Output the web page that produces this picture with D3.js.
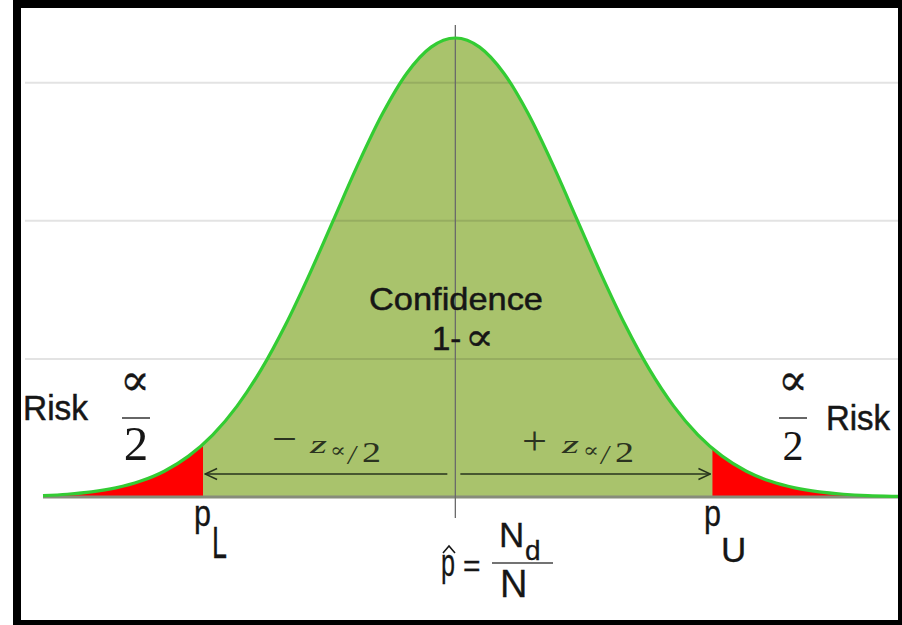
<!DOCTYPE html>
<html>
<head>
<meta charset="utf-8">
<script src="https://cdn.jsdelivr.net/npm/d3@7"></script>
<style>
  body { margin: 0; background: #fff; }
  svg { display: block; }
</style>
</head>
<body>
<script>
// curve heights (z in sigma units, density)
const zPts = [-3.4, -3.2, -3.0, -2.8, -2.6, -2.4, -2.2, -2.0, -1.8, -1.6, -1.4, -1.2, -1.0, -0.8, -0.6, -0.4, -0.2,
              0, 0.2, 0.4, 0.6, 0.8, 1.0, 1.2, 1.4, 1.6, 1.8, 2.0, 2.2, 2.4, 2.6, 2.8, 3.0, 3.2, 3.4, 3.6, 3.65];
const densPts = [0.0012, 0.0024, 0.0044, 0.0079, 0.0136, 0.0224, 0.0355, 0.0540, 0.0790, 0.1109, 0.1497, 0.1942, 0.2420, 0.2897, 0.3332, 0.3683, 0.3910,
                 0.3989, 0.3910, 0.3683, 0.3332, 0.2897, 0.2420, 0.1942, 0.1497, 0.1109, 0.0790, 0.0540, 0.0355, 0.0224, 0.0136, 0.0079, 0.0044, 0.0024, 0.0012, 0.0006, 0.0005];
const gridLevels = [0.12, 0.24, 0.36];
const critZ = [-2.08, 2.12];   // p_L , p_U

var w = 902, h = 625;

const svg = d3.select('body').append('svg')
  .attr('width', w)
  .attr('height', h);

// frame
svg.append('rect').attr('x', 13).attr('y', 0).attr('width', w - 13).attr('height', h).attr('fill', '#000');
svg.append('rect').attr('x', 21).attr('y', 8).attr('width', 877).attr('height', 612).attr('fill', '#fff');

var x = d3.scaleLinear().domain([-3.4, 3.65]).range([43, 898]);
var y = d3.scaleLinear().domain([0, 0.3989]).range([497, 38]);

var pts = zPts.map((z, i) => ({ z: z, d: densPts[i] }));

var defs = svg.append('defs');
defs.append('clipPath').attr('id', 'tailL').append('rect')
  .attr('x', 0).attr('y', 0).attr('width', x(critZ[0])).attr('height', h);
defs.append('clipPath').attr('id', 'tailR').append('rect')
  .attr('x', x(critZ[1])).attr('y', 0).attr('width', w - x(critZ[1])).attr('height', h);
defs.append('marker')
  .attr('id', 'arr')
  .attr('viewBox', '-14 -7 15 14')
  .attr('refX', 0).attr('refY', 0)
  .attr('markerWidth', 15).attr('markerHeight', 14)
  .attr('markerUnits', 'userSpaceOnUse')
  .attr('orient', 'auto')
  .append('path')
  .attr('d', 'M-12,-5.5L0,0L-12,5.5')
  .attr('fill', 'none')
  .attr('stroke', '#27331c')
  .attr('stroke-width', 1.5);

var area = d3.area().x(d => x(d.z)).y0(y(0)).y1(d => y(d.d)).curve(d3.curveMonotoneX);
var line = d3.line().x(d => x(d.z)).y(d => y(d.d)).curve(d3.curveMonotoneX);

// body of the curve
svg.append('path').datum(pts).attr('d', area).attr('fill', '#a9c36c');

// tails
svg.append('path').datum(pts).attr('d', area).attr('fill', '#ff0000').attr('clip-path', 'url(#tailL)');
svg.append('path').datum(pts).attr('d', area).attr('fill', '#ff0000').attr('clip-path', 'url(#tailR)');

// grid
svg.selectAll('.grid')
  .data(gridLevels)
  .enter().append('line')
  .attr('class', 'grid')
  .attr('x1', 25).attr('x2', 898)
  .attr('y1', d => y(d)).attr('y2', d => y(d))
  .attr('stroke', '#000').attr('stroke-opacity', 0.11).attr('stroke-width', 2);

// baseline
svg.append('line')
  .attr('x1', x(-3.4)).attr('x2', x(3.65))
  .attr('y1', y(0)).attr('y2', y(0))
  .attr('stroke', '#878c7a').attr('stroke-width', 3);

// mean line
svg.append('line')
  .attr('x1', x(0)).attr('x2', x(0))
  .attr('y1', 25).attr('y2', 518)
  .attr('stroke', '#6a6a6a').attr('stroke-width', 1.3);

svg.append('path').datum(pts).attr('d', line)
  .attr('fill', 'none').attr('stroke', '#33cc33').attr('stroke-width', 3.2);

// arrows +/- z
var ay = 474;
svg.append('line')
  .attr('x1', x(0) - 8).attr('x2', x(critZ[0]) + 2).attr('y1', ay).attr('y2', ay)
  .attr('stroke', '#27331c').attr('stroke-width', 1.5).attr('marker-end', 'url(#arr)');
svg.append('line')
  .attr('x1', x(0) + 5).attr('x2', x(critZ[1]) - 2).attr('y1', ay).attr('y2', ay)
  .attr('stroke', '#27331c').attr('stroke-width', 1.5).attr('marker-end', 'url(#arr)');

var sans = 'Arial, "Liberation Sans", sans-serif';
var serif = '"Times New Roman", "Liberation Serif", serif';
var alphaFont = '"DejaVu Serif", serif';
var ink = '#161616';

function txt(s, px, py, size, fam, opts) {
  opts = opts || {};
  var t = svg.append('text')
    .attr('x', px).attr('y', py)
    .attr('font-family', fam)
    .attr('font-size', size)
    .attr('fill', opts.fill || ink)
    .attr('text-anchor', opts.anchor || 'start')
    .text(s);
  if (opts.style) t.attr('font-style', opts.style);
  if (opts.len) t.attr('textLength', opts.len).attr('lengthAdjust', 'spacingAndGlyphs');
  if (opts.bold) t.attr('stroke', opts.fill || ink).attr('stroke-width', opts.bold);
  return t;
}

// Confidence 1-alpha
txt('Confidence', 369, 310, 32, sans, { len: 174, bold: 0.5 });
txt('1-', 432, 350, 33, sans, { bold: 0.5 });
txt('\u221D', 465, 350, 38, alphaFont, { len: 29, bold: 0.4 });

// Risk labels
txt('Risk', 23, 420, 35, sans, { len: 65, bold: 0.5 });
txt('Risk', 826, 430, 35, sans, { len: 64, bold: 0.5 });

// alpha / 2 fractions
function frac(x0, cx, size2) {
  txt('\u221D', x0, 395, 44, alphaFont, { len: 30, bold: 0.3 });
  svg.append('line').attr('x1', cx - 14).attr('x2', cx + 14).attr('y1', 418).attr('y2', 418)
    .attr('stroke', '#333').attr('stroke-width', 1.5);
  txt('2', cx, 460, size2, serif, { anchor: 'middle' });
}
frac(120, 136, 49);
frac(778, 793, 42);

// -z and +z labels
var zInk = '#2b3320';
function zlab(sign, xs, signY) {
  txt(sign, xs[0], signY, 40, serif, { fill: zInk, len: 25 });
  txt('z', xs[1], 453, 25, serif, { style: 'italic', fill: zInk, len: 17 });
  txt('\u221D', xs[2], 457, 20, alphaFont, { fill: zInk, len: 16 });
  txt('/', xs[3], 464, 28, serif, { style: 'italic', fill: zInk });
  txt('2', xs[4], 462, 29, serif, { fill: zInk, len: 19 });
}
zlab('\u2212', [272, 310, 330, 348, 362], 452);
zlab('+', [522, 562, 583, 601, 615], 454);

// p_L and p_U
txt('p', 194, 526, 37, sans, { len: 17, bold: 0.3 });
txt('L', 212, 558, 44, sans, { len: 15, bold: 0.3 });
txt('p', 704, 526, 37, sans, { len: 17, bold: 0.3 });
txt('U', 721, 562, 35, sans, { bold: 0.3 });

// p-hat = N_d / N
txt('p', 441, 576, 38, sans, { len: 14, bold: 0.3 });
svg.append('path')
  .attr('d', d3.line()([[443, 553], [449, 546], [455, 553]]))
  .attr('fill', 'none').attr('stroke', ink).attr('stroke-width', 1.6);
txt('=', 463, 576, 30, sans, { bold: 0.3 });
txt('N', 499, 547, 35, sans, { bold: 0.3 });
txt('d', 525, 560, 28, sans, { bold: 0.3 });
svg.append('line').attr('x1', 492).attr('x2', 553).attr('y1', 563).attr('y2', 563)
  .attr('stroke', '#444').attr('stroke-width', 1.5);
txt('N', 500, 597, 38, sans, { bold: 0.3 });
</script>
</body>
</html>
